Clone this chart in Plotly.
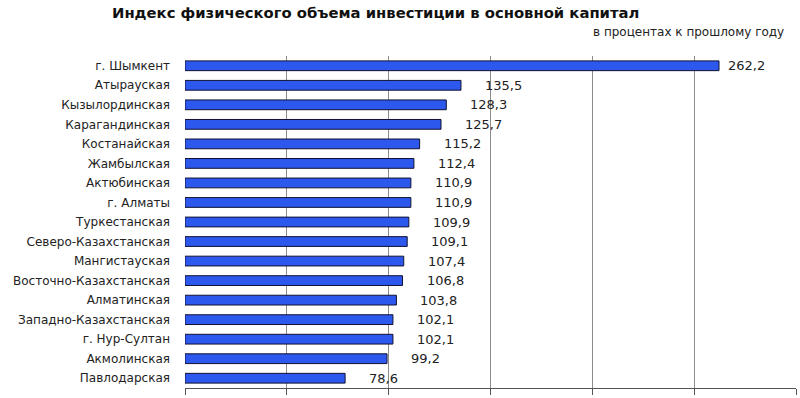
import plotly.graph_objects as go

regions = ["г. Шымкент", "Атырауская", "Кызылординская", "Карагандинская", "Костанайская",
           "Жамбылская", "Актюбинская", "г. Алматы", "Туркестанская", "Северо-Казахстанская",
           "Мангистауская", "Восточно-Казахстанская", "Алматинская", "Западно-Казахстанская",
           "г. Нур-Султан", "Акмолинская", "Павлодарская"]
values = [262.2, 135.5, 128.3, 125.7, 115.2, 112.4, 110.9, 110.9, 109.9, 109.1,
          107.4, 106.8, 103.8, 102.1, 102.1, 99.2, 78.6]

fig = go.Figure()
fig.add_trace(go.Bar(
    y=regions, x=values, orientation="h",
    marker=dict(color="#2d58ee", line=dict(color="#111133", width=1)),
    width=0.5,
))

for r, v in zip(regions, values):
    fig.add_annotation(
        x=v, y=r, xref="x", yref="y",
        text=f"{v:.1f}".replace(".", ","),
        showarrow=False, xanchor="left",
        xshift=7 if v > 250 else 22,
        font=dict(family="DejaVu Sans", size=13, color="#222222"),
    )

fig.update_layout(
    width=800, height=398,
    margin=dict(l=185, r=4, t=56, b=10),
    paper_bgcolor="white", plot_bgcolor="white",
    showlegend=False,
    xaxis=dict(range=[0, 300], dtick=50, tick0=0, showgrid=True, gridcolor="#8c8c8c",
               gridwidth=1, showticklabels=False, ticks="outside", ticklen=6,
               tickcolor="#555555", showline=True, linecolor="#555555", zeroline=False,
               fixedrange=True),
    yaxis=dict(autorange="reversed", showline=False, ticks="", ticklabelstandoff=14,
               tickfont=dict(family="DejaVu Sans", size=12, color="#222222"),
               fixedrange=True),
    bargap=0.5,
)

fig.add_annotation(
    x=(375 - 185) / 611, y=1 + (56 - 13) / 332, xref="paper", yref="paper",
    xanchor="center", yanchor="middle", showarrow=False,
    text="<b>Индекс физического объема инвестиции в основной капитал</b>",
    font=dict(family="DejaVu Sans", size=14.8, color="#111111"),
)
fig.add_annotation(
    x=(786 - 185) / 611, y=1 + (56 - 32) / 332, xref="paper", yref="paper",
    xanchor="right", yanchor="middle", showarrow=False,
    text="в процентах к прошлому году",
    font=dict(family="DejaVu Sans", size=12, color="#222222"),
)

fig.write_html("out.html", config={"displayModeBar": False})

with open("out.html", "r", encoding="utf-8") as f:
    html = f.read()
html = html.replace("<head>", "<head><style>html,body{margin:0;padding:0;overflow:hidden}</style>", 1)
with open("out.html", "w", encoding="utf-8") as f:
    f.write(html)
